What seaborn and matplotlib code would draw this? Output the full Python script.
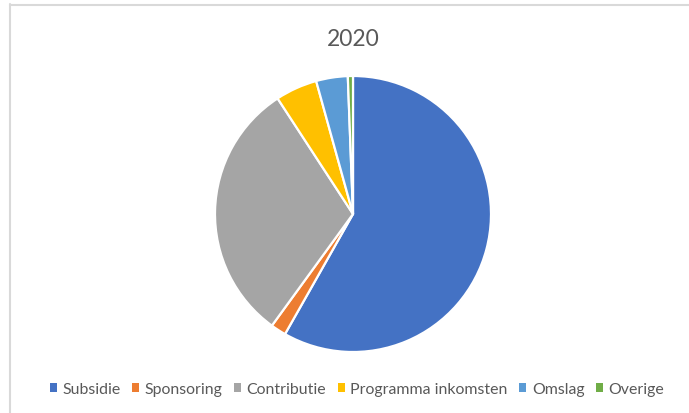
import matplotlib
matplotlib.use("Agg")
import matplotlib.pyplot as plt
import seaborn as sns
from matplotlib.lines import Line2D
from matplotlib.patches import Patch

categories = ["Subsidie", "Sponsoring", "Contributie", "Programma inkomsten", "Omslag", "Overige"]
values = [58.2, 1.8, 30.8, 4.9, 3.7, 0.6]
colors = ["#4472C4", "#ED7D31", "#A5A5A5", "#FFC000", "#5B9BD5", "#70AD47"]
title = "2020"

sns.set_theme(style="white")
plt.rcParams["font.family"] = ["Lato", "DejaVu Sans"]

W, H = 689, 414
fig = plt.figure(figsize=(W / 100, H / 100), dpi=100)
fig.patch.set_facecolor("white")

cx, cy, r = 353, 215, 138
ax = fig.add_axes([(cx - r) / W, (H - cy - r) / H, 2 * r / W, 2 * r / H])
ax.pie(values, colors=colors, startangle=90, counterclock=False,
       wedgeprops=dict(edgecolor="white", linewidth=1.6), radius=1)
ax.set_xlim(-1, 1)
ax.set_ylim(-1, 1)
ax.set_aspect("equal")
ax.axis("off")

fig.text(353 / W, 1 - 40 / H, title, ha="center", va="center", fontsize=16.5, color="#595959")

# chart border
fig.add_artist(Line2D([9.5 / W, 9.5 / W], [0, 1 - 5 / H], transform=fig.transFigure,
                      color="#D9D9D9", linewidth=1.5))
fig.add_artist(Line2D([9.5 / W, 1], [1 - 5.5 / H, 1 - 5.5 / H], transform=fig.transFigure,
                      color="#D9D9D9", linewidth=1.5))

handles = [Patch(facecolor=c, edgecolor="none") for c in colors]
leg = fig.legend(handles, categories, loc="center", bbox_to_anchor=(357 / W, 1 - 390 / H),
                 ncol=6, frameon=False, fontsize=11.4, handlelength=0.45, handleheight=0.45,
                 handletextpad=0.35, columnspacing=0.72, labelcolor="#595959")

fig.savefig("out.png", dpi=100, facecolor="white")
